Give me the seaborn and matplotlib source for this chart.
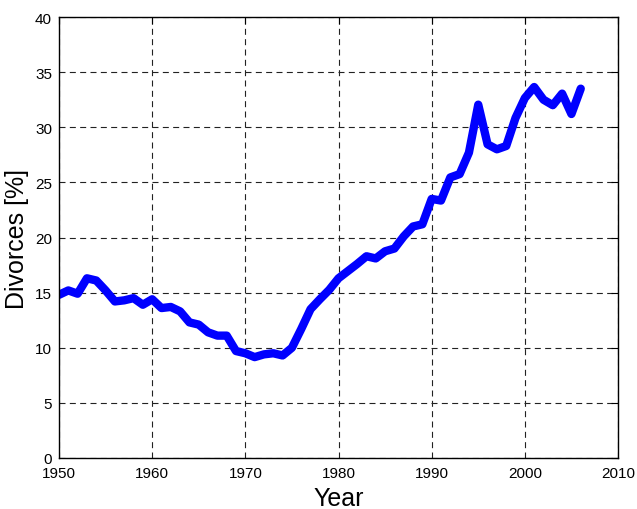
import matplotlib
matplotlib.use('Agg')
import matplotlib.pyplot as plt
import pandas as pd
import seaborn as sns

years = list(range(1950, 2007))
divorces = [
    14.8, 15.2, 14.9, 16.3, 16.1, 15.2, 14.2, 14.3, 14.5, 13.9,
    14.4, 13.6, 13.7, 13.3, 12.3, 12.1, 11.4, 11.1, 11.1, 9.7,
    9.5, 9.15, 9.4, 9.5, 9.3, 10.0, 11.7, 13.5, 14.4, 15.25,
    16.3, 16.95, 17.6, 18.3, 18.1, 18.75, 19.0, 20.1, 21.0, 21.2,
    23.5, 23.35, 25.45, 25.75, 27.7, 32.05, 28.45, 28.0, 28.3, 30.85,
    32.65, 33.65, 32.5, 32.0, 33.05, 31.2, 33.5,
]

df = pd.DataFrame({'year': years, 'divorces': divorces})

sns.set_style('white')
plt.rcParams['font.family'] = ['Liberation Sans', 'DejaVu Sans']
plt.rcParams['text.color'] = 'black'
plt.rcParams['axes.labelcolor'] = 'black'

fig = plt.figure(figsize=(6.37, 5.10), dpi=100)
ax = fig.add_axes([0.0926, 0.1, 0.8776, 0.8647])

sns.lineplot(data=df, x='year', y='divorces', color='#0000ff', linewidth=6, ax=ax)

ax.set_xlim(1950, 2010)
ax.set_ylim(0, 40)
ax.set_xticks(range(1950, 2011, 10))
ax.set_yticks(range(0, 41, 5))
ax.grid(True, color='#222222', linestyle=(0, (5.4, 3.9)), linewidth=0.8)
ax.tick_params(direction='in', top=True, right=True, length=5, labelsize=11,
               colors='black')
ax.tick_params(axis='x', pad=6)
ax.tick_params(axis='y', pad=5)
for s in ax.spines.values():
    s.set_color('black')
    s.set_linewidth(1.0)
ax.set_xlabel('Year', fontsize=18, labelpad=4)
ax.set_ylabel('Divorces [%]', fontsize=18, labelpad=4)

fig.savefig('out.png', dpi=100)
